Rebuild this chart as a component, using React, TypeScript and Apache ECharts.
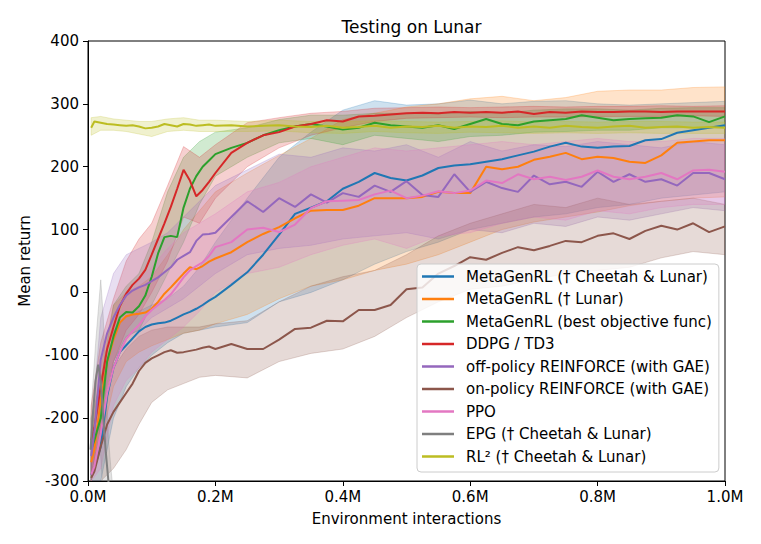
import React, { useEffect, useRef } from "react";
import * as echarts from "echarts";

const FONT = "DejaVu Sans";

// x positions (millions of environment interactions)
const xLine = [0.005,0.01,0.02,0.03,0.04,0.05,0.06,0.07,0.08,0.09,0.1,0.11,0.12,0.13,0.14,0.15,0.16,0.17,0.18,0.19,0.2,
  0.225,0.25,0.275,0.3,0.325,0.35,0.375,0.4,0.425,0.45,0.475,0.5,0.525,0.55,0.575,0.6,0.625,0.65,0.675,0.7,0.725,0.75,0.775,0.8,0.825,0.85,0.875,0.9,0.925,0.95,0.975,1.0];
const xBand = [0.005,0.02,0.04,0.06,0.08,0.1,0.125,0.15,0.175,0.2,0.25,0.3,0.35,0.4,0.45,0.5,0.55,0.6,0.65,0.7,0.75,0.8,0.85,0.9,0.95,1.0];
const xEpg = [0.004,0.008,0.012,0.016,0.02,0.024,0.028,0.032,0.036,0.04];

const names = [
  "MetaGenRL († Cheetah & Lunar)",
  "MetaGenRL († Lunar)",
  "MetaGenRL (best objective func)",
  "DDPG / TD3",
  "off-policy REINFORCE (with GAE)",
  "on-policy REINFORCE (with GAE)",
  "PPO",
  "EPG († Cheetah & Lunar)",
  "RL² († Cheetah & Lunar)",
];
const colors = ["#1f77b4","#ff7f0e","#2ca02c","#d62728","#9467bd","#8c564b","#e377c2","#7f7f7f","#bcbd22"];

// mean returns
const blueMean = [-290,-280,-245,-165,-120,-95,-84,-73,-62,-55,-51,-49,-48,-45,-40,-35,-31,-26,-20,-13,-7,
  12,32,60,92,125,135,145,165,176,190,182,178,186,198,202,204,208,212,218,224,232,238,232,230,232,233,242,244,254,258,262,266];
const orangeMean = [-270,-250,-171,-112,-75,-48,-38,-35,-34,-32,-26,-15,-2,8,19,30,40,37,42,49,54,
  64,80,93,104,118,130,131,131,138,150,150,150,152,160,158,158,200,196,200,211,216,222,212,216,214,208,206,218,238,240,242,242];
const greenMean = [-250,-235,-200,-110,-70,-40,-31,-32,-22,-5,25,62,88,90,88,135,165,185,200,210,220,
  230,238,250,258,264,268,264,259,262,270,266,264,262,266,260,268,276,268,266,272,274,276,282,278,274,276,277,278,282,280,271,280];
const redMean = [-235,-215,-150,-90,-55,-22,-2,12,22,36,60,85,110,136,165,195,178,153,163,176,190,
  222,238,250,255,264,268,274,272,280,281,283,285,286,285,287,286,287,286,288,284,287,286,288,287,287,288,288,287,288,288,288,288];
const purpleMean = [-260,-222,-107,-65,-40,-20,-5,3,8,12,18,24,32,40,52,58,64,82,92,93,95,
  120,145,128,150,136,156,143,158,152,170,160,177,155,152,188,160,176,166,160,186,172,176,168,192,176,188,176,180,170,190,190,180];
const brownMean = [-295,-285,-245,-210,-190,-175,-160,-145,-125,-112,-105,-100,-95,-92,-96,-95,-93,-91,-88,-86,-90,
  -82,-90,-90,-75,-58,-56,-45,-46,-28,-28,-20,5,8,30,42,56,52,63,72,67,74,82,80,90,94,85,98,106,100,110,96,105];
const pinkMean = [-290,-277,-224,-160,-120,-95,-74,-62,-52,-38,-28,-20,-12,-3,10,24,35,42,48,58,72,
  80,100,103,96,108,134,145,146,147,156,162,150,154,161,158,162,178,174,188,180,184,179,184,194,184,180,184,190,180,194,195,192];
const epgMean = [-250,-190,-140,-115,-140,-200,-255,-300,-330,-350];
const rl2Mean = [262,272,270,268,267,266,265,266,264,261,262,264,268,266,264,268,267,265,266,267,265,
  266,264,265,266,264,263,265,262,263,265,262,264,263,265,262,264,263,265,262,264,262,265,263,262,264,265,262,263,264,262,263,262];

// confidence bands
const blueUpper = [-240,-200,-60,-40,-30,-20,-10,10,40,80,150,215,255,290,305,298,300,306,300,304,305,300,298,300,302,304];
const blueLower = [-300,-300,-200,-150,-120,-100,-80,-65,-60,-55,-48,-15,0,20,45,65,80,100,110,120,125,135,140,150,155,160];
const orangeUpper = [-230,-120,-20,0,10,25,60,100,130,160,190,218,245,275,285,295,300,308,312,305,310,320,322,322,326,327];
const orangeLower = [-300,-240,-150,-110,-95,-85,-75,-65,-60,-50,-35,-10,10,20,35,45,60,80,100,112,120,128,138,145,150,152];
const greenUpper = [-200,-140,-20,10,30,80,160,215,240,255,262,275,282,282,285,285,284,288,285,290,292,292,290,293,294,294];
const greenLower = [-300,-240,-110,-70,-60,-20,30,80,140,185,215,238,245,235,250,245,240,248,250,255,256,258,258,262,262,262];
const redUpper = [-180,-80,-10,50,85,110,170,232,215,235,270,278,285,288,293,294,295,294,295,296,295,296,296,297,296,297];
const redLower = [-290,-220,-110,-60,-35,0,50,120,110,150,200,230,250,262,272,277,278,279,278,279,279,280,280,280,281,280];
const purpleUpper = [-220,-40,30,60,70,80,95,120,145,170,195,220,215,230,225,235,215,240,225,235,232,240,235,230,240,235];
const purpleLower = [-300,-180,-110,-70,-60,-40,-25,-10,10,30,60,70,75,85,90,95,85,100,95,110,105,120,115,125,135,130];
const brownUpper = [-260,-200,-120,-90,-70,-60,-55,-55,-55,-50,-45,-15,10,25,35,60,90,110,125,140,135,150,140,145,150,140];
const brownLower = [-300,-300,-280,-250,-210,-175,-155,-145,-135,-132,-136,-110,-97,-90,-70,-40,-15,5,10,20,30,35,40,55,65,60];
const pinkUpper = [-260,-170,-60,-10,20,40,70,95,110,125,160,175,200,215,230,225,230,235,240,235,240,245,240,240,245,245];
const pinkLower = [-300,-280,-180,-140,-120,-95,-75,-55,-30,0,30,40,60,75,85,70,90,95,110,120,115,130,125,135,140,140];
const epgUpper = [-200,-140,-80,-30,20,-40,-150,-230,-280,-320];
const epgLower = [-300,-240,-200,-190,-260,-330,-360,-370,-380,-390];
const rl2Upper = [278,280,276,274,272,272,276,278,274,274,272,274,272,272,273,272,271,272,273,271,272,271,272,272,271,271];
const rl2Lower = [250,258,258,256,252,248,256,258,256,256,256,257,254,253,256,254,253,255,254,253,254,253,254,253,253,253];

const means = [blueMean, orangeMean, greenMean, redMean, purpleMean, brownMean, pinkMean, epgMean, rl2Mean];
const uppers = [blueUpper, orangeUpper, greenUpper, redUpper, purpleUpper, brownUpper, pinkUpper, epgUpper, rl2Upper];
const lowers = [blueLower, orangeLower, greenLower, redLower, purpleLower, brownLower, pinkLower, epgLower, rl2Lower];
const lineXs = [xLine, xLine, xLine, xLine, xLine, xLine, xLine, xEpg, xLine];
const bandXs = [xBand, xBand, xBand, xBand, xBand, xBand, xBand, xEpg, xBand];

function rgba(hex: string, a: number) {
  const r = parseInt(hex.slice(1, 3), 16);
  const g = parseInt(hex.slice(3, 5), 16);
  const b = parseInt(hex.slice(5, 7), 16);
  return `rgba(${r},${g},${b},${a})`;
}

function bandSeries(i: number) {
  const xs = bandXs[i];
  const lo = lowers[i];
  const hi = uppers[i];
  const color = colors[i];
  return {
    type: "custom",
    name: names[i] + " band",
    silent: true,
    clip: true,
    z: 1,
    data: xs.map((x, k) => [x, lo[k], hi[k]]),
    encode: { x: 0, y: [1, 2] },
    renderItem: (params: any, api: any) => {
      if (params.dataIndex !== 0) return { type: "group", children: [] };
      const top = xs.map((x, k) => api.coord([x, hi[k]]));
      const bot = xs.map((x, k) => api.coord([x, lo[k]])).reverse();
      return {
        type: "polygon",
        shape: { points: top.concat(bot) },
        style: { fill: rgba(color, 0.22), stroke: rgba(color, 0.3), lineWidth: 0.8 },
      };
    },
  };
}

function lineSeries(i: number) {
  const xs = lineXs[i];
  return {
    type: "line",
    name: names[i],
    data: xs.map((x, k) => [x, means[i][k]]),
    showSymbol: false,
    symbol: "none",
    clip: true,
    z: 3,
    lineStyle: { color: colors[i], width: 2 },
    itemStyle: { color: colors[i] },
  };
}

export default function App() {
  const ref = useRef<HTMLDivElement>(null);
  useEffect(() => {
    if (!ref.current) return;
    const chart = echarts.init(ref.current, undefined, { renderer: "svg" });
    const series: any[] = [];
    for (let i = 0; i < names.length; i++) series.push(bandSeries(i));
    for (let i = 0; i < names.length; i++) series.push(lineSeries(i));
    chart.setOption({
      animation: false,
      backgroundColor: "#ffffff",
      title: {
        text: "Testing on Lunar",
        left: 406.5,
        top: 13,
        textAlign: "center",
        textStyle: { fontFamily: FONT, fontSize: 17, fontWeight: "normal", color: "#000" },
      },
      grid: { left: 88, top: 41, width: 637, height: 440, show: true, borderColor: "#000", borderWidth: 1, backgroundColor: "transparent" },
      xAxis: {
        type: "value",
        min: 0,
        max: 1,
        interval: 0.2,
        name: "Environment interactions",
        nameLocation: "middle",
        nameGap: 30,
        nameTextStyle: { fontFamily: FONT, fontSize: 15, color: "#000" },
        axisLine: { show: true, onZero: false, lineStyle: { color: "#000", width: 1 } },
        axisTick: { show: true, inside: false, length: 5, lineStyle: { color: "#000" } },
        axisLabel: { fontFamily: FONT, fontSize: 15, color: "#000", margin: 8, formatter: (v: number) => v.toFixed(1) + "M" },
        splitLine: { show: false },
      },
      yAxis: {
        type: "value",
        min: -300,
        max: 400,
        interval: 100,
        name: "Mean return",
        nameLocation: "middle",
        nameGap: 56,
        nameTextStyle: { fontFamily: FONT, fontSize: 15, color: "#000" },
        axisLine: { show: true, onZero: false, lineStyle: { color: "#000", width: 1 } },
        axisTick: { show: true, inside: false, length: 5, lineStyle: { color: "#000" } },
        axisLabel: { fontFamily: FONT, fontSize: 15, color: "#000", margin: 9 },
        splitLine: { show: false },
      },
      legend: {
        data: names,
        orient: "vertical",
        left: 417,
        top: 264,
        icon: "rect",
        itemWidth: 32,
        itemHeight: 2.5,
        itemGap: 7.5,
        padding: [5, 7, 8, 5],
        backgroundColor: "rgba(255,255,255,0.8)",
        borderColor: "#cccccc",
        borderWidth: 1,
        borderRadius: 4,
        selectedMode: false,
        itemStyle: { borderWidth: 0 },
        textStyle: { fontFamily: FONT, fontSize: 15, color: "#000", lineHeight: 15, padding: [0, 0, 0, 7] },
      },
      series,
    });
    return () => chart.dispose();
  }, []);
  return <div ref={ref} style={{ position: "fixed", left: 0, top: 0, width: 761, height: 544 }} />;
}
